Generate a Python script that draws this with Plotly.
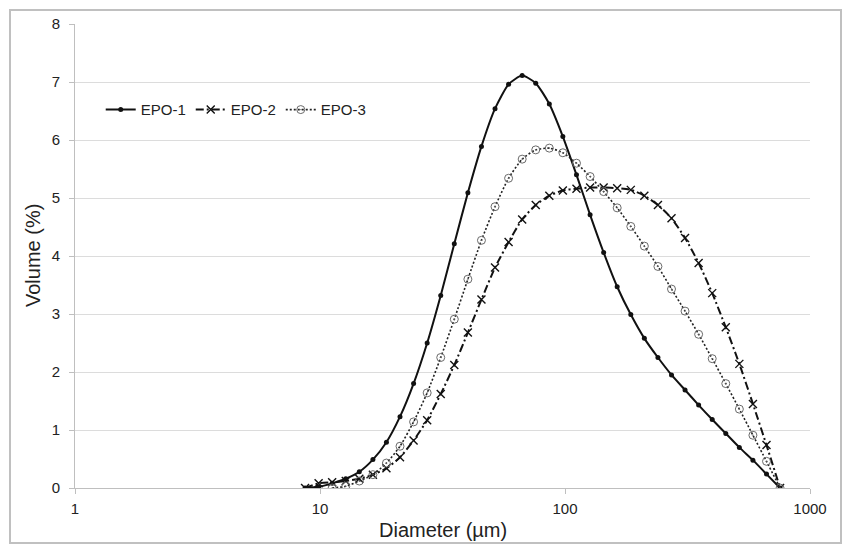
import plotly.graph_objects as go

# Diameters (µm)
diam = [8.69, 9.87, 11.21, 12.74, 14.47, 16.44, 18.67, 21.21, 24.10, 27.38,
        31.10, 35.33, 40.14, 45.60, 51.80, 58.85, 66.86, 75.95, 86.30, 98.0,
        111.4, 126.6, 143.8, 163.3, 185.6, 210.8, 239.5, 272.1, 309.0, 351.1,
        398.9, 453.2, 514.8, 584.8, 664.4, 754.8]

epo1 = [0.0, 0.02, 0.08, 0.16, 0.28, 0.49, 0.79, 1.23, 1.80, 2.50,
        3.32, 4.21, 5.09, 5.89, 6.54, 6.96, 7.11, 6.98, 6.62, 6.06,
        5.40, 4.71, 4.06, 3.47, 2.99, 2.58, 2.25, 1.95, 1.69, 1.43,
        1.18, 0.94, 0.70, 0.48, 0.24, 0.0]

epo2 = [0.0, 0.08, 0.10, 0.12, 0.16, 0.23, 0.34, 0.53, 0.82, 1.17,
        1.62, 2.12, 2.68, 3.25, 3.80, 4.24, 4.63, 4.88, 5.04, 5.13,
        5.16, 5.18, 5.18, 5.17, 5.14, 5.04, 4.88, 4.65, 4.31, 3.88,
        3.36, 2.77, 2.14, 1.45, 0.74, 0.0]

diam3 = diam[2:]
epo3 = [0.0, 0.03, 0.12, 0.23, 0.43, 0.72, 1.14, 1.64,
        2.25, 2.91, 3.60, 4.27, 4.85, 5.34, 5.67, 5.83, 5.86, 5.78,
        5.60, 5.37, 5.11, 4.83, 4.51, 4.17, 3.82, 3.43, 3.05, 2.65,
        2.23, 1.80, 1.36, 0.91, 0.46, 0.0]

x_ticks = [1, 10, 100, 1000]
x_ticktext = ["1", "10", "100", "1000"]
x_title = "Diameter (µm)"
y_title = "Volume (%)"

FONT = "Liberation Sans, Arial, sans-serif"

fig = go.Figure()
fig.add_trace(go.Scatter(
    x=diam, y=epo1, name="EPO-1", mode="lines+markers",
    line=dict(color="#111111", width=2, shape="spline", smoothing=0.6),
    marker=dict(symbol="circle", size=5, color="#111111"),
))
fig.add_trace(go.Scatter(
    x=diam, y=epo2, name="EPO-2", mode="lines+markers",
    line=dict(color="#111111", width=2, dash="8px,3px,2px,3px", shape="spline", smoothing=0.6),
    marker=dict(symbol="x-thin-open", size=8, line=dict(color="#333333", width=1.4)),
))
fig.add_trace(go.Scatter(
    x=diam3, y=epo3, name="EPO-3", mode="lines+markers",
    line=dict(color="#222222", width=1.6, dash="2px,2px", shape="spline", smoothing=0.6),
    marker=dict(symbol="circle-open-dot", size=8, color="#6a6a6a", line=dict(color="#6a6a6a", width=1)),
))

L, R, T, B = 75, 33, 24, 56
W, H = 843, 544
pw, ph = W - L - R, H - T - B

fig.update_layout(
    width=W, height=H,
    margin=dict(l=L, r=R, t=T, b=B),
    paper_bgcolor="white", plot_bgcolor="white",
    font=dict(family=FONT, size=15, color="#222222"),
    showlegend=True,
    legend=dict(orientation="h", x=0.035, y=0.815, xanchor="left", yanchor="middle",
                bgcolor="rgba(0,0,0,0)", font=dict(size=15, color="#222222"),
                itemwidth=30, tracegroupgap=0),
    xaxis=dict(type="log", range=[0, 3], tickvals=x_ticks, ticktext=x_ticktext,
               showgrid=False, showline=True, linecolor="#bfbfbf", linewidth=1,
               ticks="outside", tickcolor="#bfbfbf", ticklen=5, ticklabelstandoff=2,
               tickfont=dict(size=15, color="#222222"),
               automargin=False, zeroline=False),
    yaxis=dict(range=[0, 8], dtick=1, showgrid=True, gridcolor="#dcdcdc", gridwidth=1,
               showline=True, linecolor="#bfbfbf", linewidth=1,
               ticks="outside", tickcolor="#bfbfbf", ticklen=5, ticklabelstandoff=6,
               tickfont=dict(size=15, color="#222222"),
               automargin=False, zeroline=False),
)

fig.add_annotation(text=x_title, xref="paper", yref="paper",
                   x=(443 - L) / pw, y=(H - B - 530) / ph,
                   xanchor="center", yanchor="middle", showarrow=False,
                   font=dict(size=20, color="#222222"))
fig.add_annotation(text=y_title, xref="paper", yref="paper",
                   x=(33 - L) / pw, y=(H - B - 256) / ph, textangle=-90,
                   xanchor="center", yanchor="middle", showarrow=False,
                   font=dict(size=20, color="#222222"))

# outer chart frame
fig.add_shape(type="rect", xref="paper", yref="paper",
              x0=(10 - L) / pw, x1=(841 - L) / pw,
              y0=(H - B - 543) / ph, y1=(H - B - 10) / ph,
              line=dict(color="#c0c0c0", width=2), fillcolor="rgba(0,0,0,0)", layer="below")

fig.write_html("out.html", config={"displayModeBar": False},
               post_script="document.body.style.margin='0px';document.body.style.overflow='hidden';")
